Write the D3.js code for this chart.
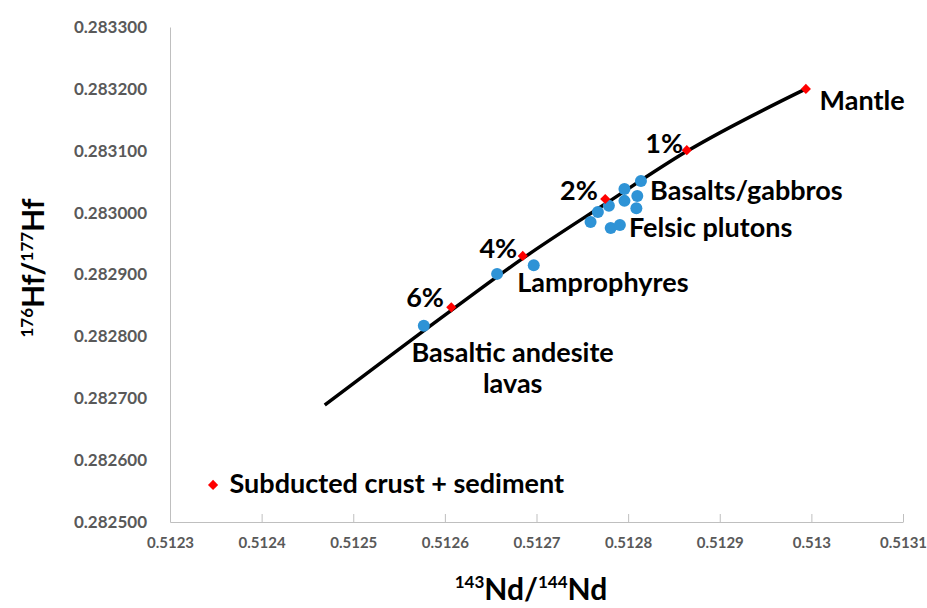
<!DOCTYPE html>
<html>
<head>
<meta charset="utf-8">
<script src="https://cdn.jsdelivr.net/npm/d3@7"></script>
<style>
  html, body { margin: 0; padding: 0; background: #fff; }
  svg { display: block; font-family: Lato, "Open Sans", sans-serif; }
</style>
</head>
<body>
<svg id="chart" width="927" height="608"></svg>
<script>
// ---- data ----
const xTicks = [0.5123, 0.5124, 0.5125, 0.5126, 0.5127, 0.5128, 0.5129, 0.5130, 0.5131];
const xTickLabels = ["0.5123", "0.5124", "0.5125", "0.5126", "0.5127", "0.5128", "0.5129", "0.513", "0.5131"];
const yTicks = [0.2825, 0.2826, 0.2827, 0.2828, 0.2829, 0.2830, 0.2831, 0.2832, 0.2833];
const yTickLabels = ["0.282500", "0.282600", "0.282700", "0.282800", "0.282900", "0.283000", "0.283100", "0.283200", "0.283300"];

// mixing curve
const curveNd = [0.512469, 0.512607, 0.512685, 0.512775, 0.512864, 0.512994];
const curveHf = [0.282689, 0.282842, 0.282926, 0.283014, 0.283099, 0.283200];

// end members and mixing proportions (red diamonds)
const redNames = ["Mantle", "1%", "2%", "4%", "6%", "Subducted crust + sediment"];
const redNd = [0.512994, 0.512864, 0.512775, 0.512685, 0.512607, 0.512347];
const redHf = [0.283200, 0.283101, 0.283022, 0.282930, 0.282847, 0.282560];

// samples (blue circles)
const sampleNd = [0.512814, 0.512796, 0.512810, 0.512796, 0.512779, 0.512809, 0.512767, 0.512759, 0.512781, 0.512791, 0.512697, 0.512657, 0.512577];
const sampleHf = [0.283051, 0.283038, 0.283027, 0.283019, 0.283011, 0.283007, 0.283001, 0.282985, 0.282975, 0.282980, 0.282915, 0.282901, 0.282817];

// annotation texts and their anchor values
const labelTexts = ["Mantle", "1%", "2%", "4%", "6%", "Basalts/gabbros", "Felsic plutons", "Lamprophyres", "Basaltic andesite", "lavas", "Subducted crust + sediment"];
const labelNd = [0.513009, 0.512860, 0.512767, 0.512679, 0.512599, 0.512824, 0.512801, 0.512679, 0.512674, 0.512674, 0.512365];
const labelHf = [0.283166, 0.283096, 0.283020, 0.282927, 0.282847, 0.283020, 0.282961, 0.282872, 0.282759, 0.282708, 0.282547];
const labelAnchor = ["start", "end", "end", "end", "end", "start", "start", "start", "middle", "middle", "start"];

// ---- layout ----
const svg = d3.select("#chart");
const x = d3.scaleLinear().domain([0.5123, 0.5131]).range([170, 903]);
const y = d3.scaleLinear().domain([0.2825, 0.2833]).range([522, 27]);

const axisColor = "#bfbfbf";
const tickColor = "#595959";

// x axis
const xAxis = d3.axisBottom(x).tickValues(xTicks).tickSizeInner(-8).tickSizeOuter(0)
  .tickFormat((d, i) => xTickLabels[i]);
const gx = svg.append("g").attr("transform", `translate(0,${y(0.2825)})`).call(xAxis);
gx.select(".domain").attr("stroke", axisColor);
gx.selectAll(".tick line").attr("stroke", axisColor);
gx.selectAll(".tick text").attr("fill", tickColor).attr("font-size", 15).attr("font-weight", "bold")
  .attr("y", 9).attr("dy", "1.15em");

// y axis
const yAxis = d3.axisLeft(y).tickValues(yTicks).tickSize(0)
  .tickFormat((d, i) => yTickLabels[i]);
const gy = svg.append("g").attr("transform", `translate(${x(0.5123)},0)`).call(yAxis);
gy.select(".domain").attr("stroke", axisColor);
gy.selectAll(".tick text").attr("fill", tickColor).attr("font-size", 17).attr("font-weight", "bold")
  .attr("x", -23);
svg.selectAll(".tick text").attr("font-family", "Lato, sans-serif");

// mixing curve
const curveData = curveNd.map((d, i) => [d, curveHf[i]]);
svg.append("path")
  .datum(curveData)
  .attr("fill", "none")
  .attr("stroke", "#000")
  .attr("stroke-width", 3.5)
  .attr("d", d3.line().x(d => x(d[0])).y(d => y(d[1])).curve(d3.curveMonotoneX));

// samples
svg.append("g").selectAll("circle")
  .data(sampleNd.map((d, i) => [d, sampleHf[i]]))
  .join("circle")
  .attr("cx", d => x(d[0]))
  .attr("cy", d => y(d[1]))
  .attr("r", 6)
  .attr("fill", "#2e93d6");

// red diamonds
svg.append("g").selectAll("path")
  .data(redNd.map((d, i) => [d, redHf[i]]))
  .join("path")
  .attr("transform", d => `translate(${x(d[0])},${y(d[1])}) rotate(45)`)
  .attr("d", "M-3.6,-3.6H3.6V3.6H-3.6Z")
  .attr("fill", "#ff0000");

// labels
svg.append("g").selectAll("text")
  .data(labelTexts.map((t, i) => ({ t, nd: labelNd[i], hf: labelHf[i], a: labelAnchor[i] })))
  .join("text")
  .attr("x", d => x(d.nd))
  .attr("y", d => y(d.hf))
  .attr("text-anchor", d => d.a)
  .attr("font-size", 27)
  .attr("font-weight", "bold")
  .attr("fill", "#000")
  .text(d => d.t);

// axis titles
const xt = svg.append("text")
  .attr("x", 531).attr("y", 600)
  .attr("text-anchor", "middle")
  .attr("font-size", 30).attr("font-weight", "bold");
xt.append("tspan").attr("font-size", 17).attr("dy", -12).text("143");
xt.append("tspan").attr("dy", 12).text("Nd/");
xt.append("tspan").attr("font-size", 17).attr("dy", -12).text("144");
xt.append("tspan").attr("dy", 12).text("Nd");

const yt = svg.append("text")
  .attr("transform", "translate(44,268) rotate(-90)")
  .attr("text-anchor", "middle")
  .attr("font-size", 30).attr("font-weight", "bold");
yt.append("tspan").attr("font-size", 17).attr("dy", -11).text("176");
yt.append("tspan").attr("dy", 11).text("Hf/");
yt.append("tspan").attr("font-size", 17).attr("dy", -11).text("177");
yt.append("tspan").attr("dy", 11).text("Hf");
</script>
</body>
</html>
